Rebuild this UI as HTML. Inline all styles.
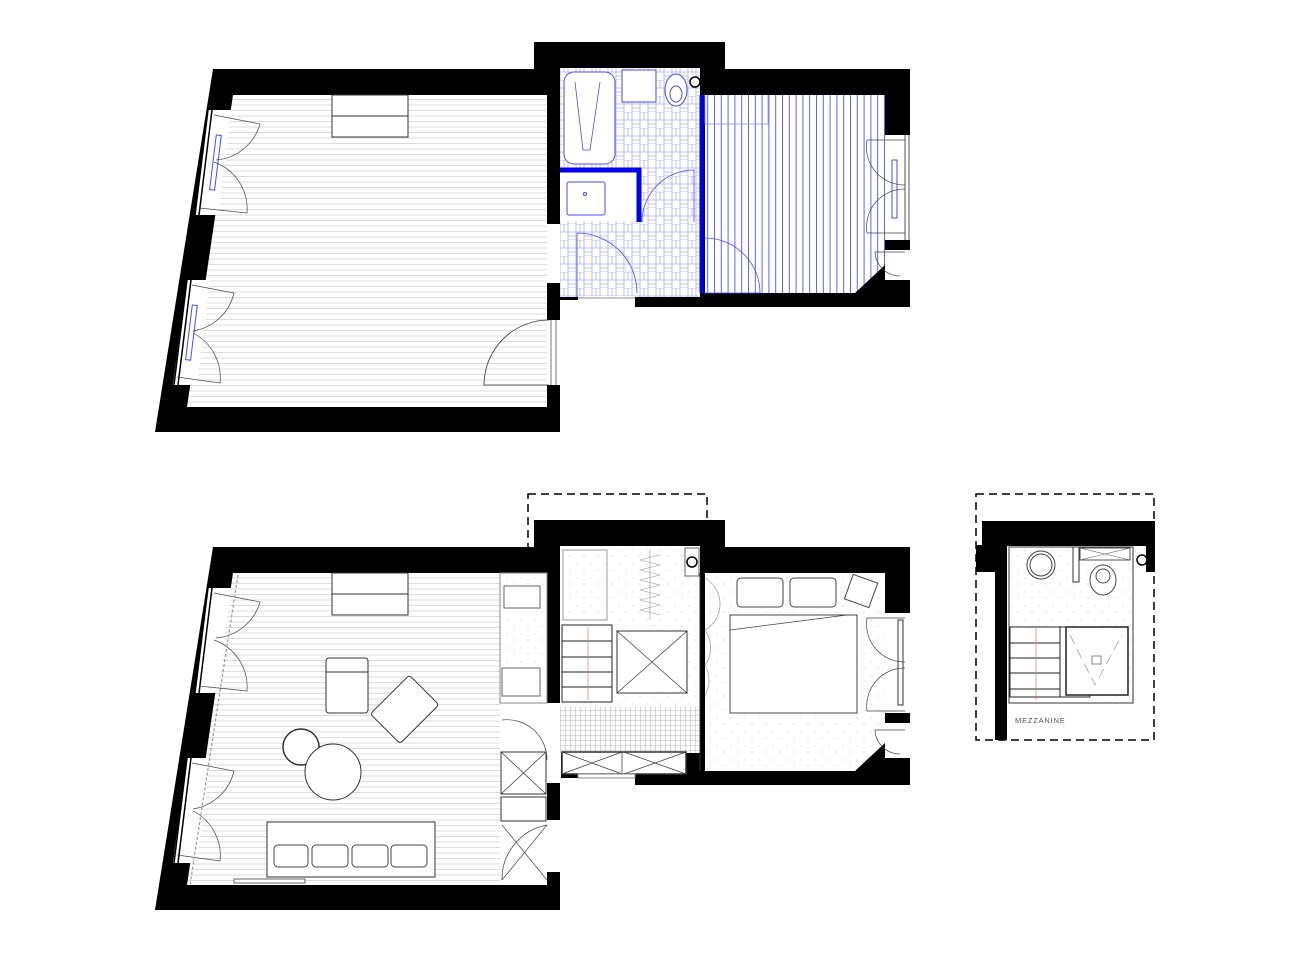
<!DOCTYPE html>
<html><head><meta charset="utf-8"><style>
html,body{margin:0;padding:0;background:#fff;}
svg{display:block;}
</style></head><body>
<svg width="1300" height="968" viewBox="0 0 1300 968" xmlns="http://www.w3.org/2000/svg">
<defs>
<pattern id="hl" width="10" height="5.5" patternUnits="userSpaceOnUse"><rect width="10" height="5.5" fill="#fff"/><line x1="0" y1="0.5" x2="10" y2="0.5" stroke="#d4d4d4" stroke-width="0.8"/></pattern>
<pattern id="vb" width="6.8" height="10" patternUnits="userSpaceOnUse"><rect width="6.8" height="10" fill="#fff"/><line x1="0.5" y1="0" x2="0.5" y2="10" stroke="#3a3aff" stroke-width="0.8"/></pattern>
<pattern id="tile" width="16" height="16" patternUnits="userSpaceOnUse"><rect width="16" height="16" fill="#fff"/><path d="M0 0H8V8H0Z M8 0V8 M4 0V8 M8 8H16V16H8Z M8 12H16 M0 8V16M16 0V8" fill="none" stroke="#8a8aff" stroke-width="0.55"/></pattern>
<pattern id="grid" width="5" height="5" patternUnits="userSpaceOnUse"><rect width="5" height="5" fill="#fff"/><path d="M0 0.5H5M0.5 0V5" stroke="#bbb" stroke-width="0.6"/></pattern>
<pattern id="dots" width="14" height="14" patternUnits="userSpaceOnUse"><rect width="14" height="14" fill="#fff"/><circle cx="3" cy="4" r="0.5" fill="#aaa"/><circle cx="10" cy="10" r="0.5" fill="#aaa"/></pattern>
<path id="outer" d="M213 69H534V42H725V69H910V307H635V297H578V300H560V432H155Z"/>
</defs>

<!-- ============ TOP PLAN ============ -->
<use href="#outer" fill="#000"/>
<path d="M233 95H547V407H187Z" fill="url(#hl)"/>
<rect x="547" y="224" width="14" height="59" fill="#fff"/>
<rect x="547" y="320" width="14" height="65" fill="#fff"/>
<line x1="551" y1="320" x2="551" y2="385" stroke="#777" stroke-width="1"/>
<line x1="556" y1="320" x2="556" y2="385" stroke="#777" stroke-width="1"/>
<path d="M549 320 A65 65 0 0 0 484 385 H549" fill="none" stroke="#333" stroke-width="0.8"/>
<rect x="560" y="68" width="140" height="229" fill="url(#tile)"/>
<rect x="578" y="296" width="57" height="5" fill="#fff"/>
<line x1="578" y1="298" x2="635" y2="298" stroke="#888"/>
<rect x="564" y="72" width="51" height="92" rx="10" fill="#fff" stroke="#4a4aff" stroke-width="1"/>
<path d="M575 82 L583 150 L590 150 L600 82" fill="none" stroke="#4a4aff" stroke-width="0.8"/>
<rect x="622" y="70" width="34" height="32" fill="#fff" stroke="#4a4aff"/>
<ellipse cx="676" cy="90" rx="11" ry="16" fill="#fff" stroke="#4a4aff"/>
<ellipse cx="676" cy="94" rx="6" ry="8" fill="none" stroke="#4a4aff"/>
<circle cx="695" cy="82" r="5" fill="#fff" stroke="#000" stroke-width="1.5"/>
<rect x="560" y="168" width="80" height="53" fill="#fff"/>
<path d="M560 170H639V222" fill="none" stroke="#0000ee" stroke-width="5"/>
<rect x="567" y="182" width="38" height="33" rx="2" fill="#fff" stroke="#4a4aff"/>
<circle cx="585" cy="194" r="1.5" fill="none" stroke="#4a4aff"/>
<path d="M642 222 A52 52 0 0 1 694 170 V222" fill="none" stroke="#4a4aff" stroke-width="0.8"/>
<path d="M577 233 A60 60 0 0 1 637 293 M577 233V297" fill="none" stroke="#4a4aff" stroke-width="0.8"/>
<path d="M705 95H885V265L855 293H705Z" fill="url(#vb)"/>
<line x1="702" y1="95" x2="702" y2="293" stroke="#0000ee" stroke-width="5"/>
<path d="M705 95V124H768V95" fill="none" stroke="#8888ff" stroke-width="0.7"/>
<path d="M705 238 A55 55 0 0 1 760 293 H705" fill="none" stroke="#4a4aff" stroke-width="0.8"/>
<rect x="885" y="135" width="25" height="105" fill="#fff"/>
<rect x="885" y="250" width="25" height="30" fill="#fff"/>
<line x1="905" y1="135" x2="905" y2="240" stroke="#555"/>
<line x1="909" y1="135" x2="909" y2="240" stroke="#555"/>
<rect x="892" y="160" width="5" height="58" fill="none" stroke="#4a4aff"/>
<path d="M905 140H867 M867 140 A38 38 0 0 0 905 185 M905 189 A38 38 0 0 0 867 233 H905" fill="none" stroke="#444" stroke-width="0.7"/>
<path d="M905 252H875 A25 25 0 0 0 900 276" fill="none" stroke="#444" stroke-width="0.7"/>
<path d="M208 110L231 110L218 215L195 215Z" fill="#fff"/>
<path d="M187 280L210 280L197 385L173 385Z" fill="#fff"/>
<path d="M208 110L195 215 M212 110L199 215 M187 280L174 385 M191 280L178 385" stroke="#000" stroke-width="1.5"/>
<rect x="213" y="135" width="5" height="55" transform="rotate(7 215 162)" fill="none" stroke="#4a4aff"/>
<rect x="189" y="305" width="5" height="55" transform="rotate(7 191 332)" fill="none" stroke="#4a4aff"/>
<path d="M214 115L260 124 A50 50 0 0 1 216 160 M214 162 A50 50 0 0 1 247 213 L199 208" fill="none" stroke="#444" stroke-width="0.7"/>
<path d="M192 285L234 293 A50 50 0 0 1 193 331 M193 333 A50 50 0 0 1 220 383 L177 377" fill="none" stroke="#444" stroke-width="0.7"/>
<rect x="332" y="95" width="76" height="42" fill="#fff" stroke="#333"/>
<line x1="332" y1="116" x2="408" y2="116" stroke="#333"/>

<!-- ============ BOTTOM PLAN ============ -->
<rect x="528" y="494" width="179" height="246" fill="none" stroke="#000" stroke-width="1.5" stroke-dasharray="8 5"/>
<use href="#outer" fill="#000" transform="translate(0,478)"/>
<path d="M233 573H547V885H187Z" fill="url(#hl)"/>
<rect x="547" y="703" width="14" height="80" fill="#fff"/>
<rect x="547" y="820" width="14" height="52" fill="#fff"/>
<rect x="500" y="573" width="47" height="312" fill="#fff"/>
<rect x="500" y="573" width="47" height="130" fill="url(#dots)" stroke="#888"/>
<rect x="504" y="586" width="36" height="22" fill="#fff" stroke="#666"/>
<rect x="502" y="668" width="38" height="28" fill="#fff" stroke="#666"/>
<rect x="501" y="752" width="45" height="42" fill="#fff" stroke="#333"/>
<path d="M501 752L546 794M546 752L501 794" stroke="#333" stroke-width="0.7"/>
<rect x="501" y="797" width="45" height="24" fill="#fff" stroke="#333"/>
<path d="M547 825 A55 55 0 0 0 502 880 M502 825L547 880M547 825L502 880" fill="none" stroke="#444" stroke-width="0.7"/>
<path d="M502 720 A40 40 0 0 1 547 760" fill="none" stroke="#444" stroke-width="0.7"/>
<rect x="560" y="546" width="140" height="161" fill="url(#dots)"/>
<rect x="563" y="550" width="44" height="70" fill="none" stroke="#999"/>
<path d="M650 550V620 M660 555L640 560L660 565L640 570L660 575L640 580L660 585L640 590L660 595L640 600L660 605L640 610L660 615" fill="none" stroke="#999" stroke-width="0.6"/>
<rect x="562" y="625" width="50" height="77" fill="#fff" stroke="#222"/>
<path d="M562 641H612M562 657H612M562 672H612M562 687H612" stroke="#222"/>
<line x1="588" y1="627" x2="588" y2="700" stroke="#f66" stroke-width="0.7"/>
<rect x="617" y="631" width="70" height="62" fill="#fff" stroke="#333"/>
<path d="M617 631L687 693M687 631L617 693" stroke="#333" stroke-width="0.7"/>
<rect x="685" y="548" width="14" height="28" fill="#fff" stroke="#666"/>
<circle cx="692" cy="562" r="5" fill="#fff" stroke="#000" stroke-width="1.5"/>
<rect x="560" y="707" width="140" height="46" fill="url(#grid)"/>
<rect x="562" y="752" width="124" height="22" fill="#fff" stroke="#333" stroke-width="1.5"/>
<path d="M562 752L622 774M622 752L562 774M624 752L686 774M686 752L624 774M622 752V774" stroke="#333" stroke-width="0.7"/>
<rect x="578" y="774" width="57" height="4" fill="#fff" stroke="#888"/>
<path d="M705 573H885V743L855 771H705Z" fill="url(#dots)"/>
<line x1="700" y1="573" x2="700" y2="771" stroke="#333"/>
<path d="M705 578 A30 30 0 0 1 705 630 A30 30 0 0 1 705 665 A30 30 0 0 1 705 695" fill="none" stroke="#999" stroke-width="0.7"/>
<rect x="730" y="615" width="127" height="98" fill="#fff" stroke="#444"/>
<line x1="730" y1="630" x2="847" y2="615" stroke="#444" stroke-width="0.7"/>
<rect x="737" y="578" width="46" height="29" rx="4" fill="#fff" stroke="#444"/>
<rect x="790" y="578" width="46" height="29" rx="4" fill="#fff" stroke="#444"/>
<rect x="848" y="578" width="26" height="26" transform="rotate(20 861 591)" fill="#fff" stroke="#444"/>
<rect x="885" y="613" width="25" height="100" fill="#fff"/>
<rect x="885" y="723" width="25" height="35" fill="#fff"/>
<rect x="898" y="620" width="5" height="85" fill="#fff" stroke="#333"/>
<path d="M905 618H867 A38 38 0 0 0 905 662 M905 668 A38 38 0 0 0 867 711 H905" fill="none" stroke="#444" stroke-width="0.7"/>
<path d="M905 730H875 A25 25 0 0 0 900 754" fill="none" stroke="#444" stroke-width="0.7"/>
<path d="M208 588L231 588L218 693L195 693Z" fill="#fff"/>
<path d="M187 758L210 758L197 863L173 863Z" fill="#fff"/>
<path d="M208 588L195 693 M212 588L199 693 M187 758L174 863 M191 758L178 863" stroke="#000" stroke-width="1.5"/>
<path d="M214 593L260 602 A50 50 0 0 1 216 638 M214 640 A50 50 0 0 1 247 691 L199 686" fill="none" stroke="#444" stroke-width="0.7"/>
<path d="M192 763L234 771 A50 50 0 0 1 193 809 M193 811 A50 50 0 0 1 220 861 L177 855" fill="none" stroke="#444" stroke-width="0.7"/>
<path d="M238 575 L190 885" stroke="#999" stroke-width="1.2" stroke-dasharray="3 2"/>
<rect x="332" y="573" width="76" height="42" fill="#fff" stroke="#333"/>
<line x1="332" y1="594" x2="408" y2="594" stroke="#333"/>
<rect x="326" y="658" width="42" height="55" rx="3" fill="#fff" stroke="#333"/>
<line x1="326" y1="672" x2="368" y2="672" stroke="#333"/>
<rect x="384" y="682" width="42" height="55" rx="3" transform="rotate(45 405 709)" fill="#fff" stroke="#333"/>
<circle cx="301" cy="747" r="18" fill="#fff" stroke="#333" stroke-width="1.5"/>
<circle cx="333" cy="772" r="28" fill="#fff" stroke="#333"/>
<rect x="267" y="822" width="168" height="55" fill="#fff" stroke="#333"/>
<rect x="274" y="845" width="34" height="22" rx="4" fill="#fff" stroke="#444"/>
<rect x="312" y="845" width="36" height="22" rx="4" fill="#fff" stroke="#444"/>
<rect x="352" y="845" width="36" height="22" rx="4" fill="#fff" stroke="#444"/>
<rect x="391" y="845" width="36" height="22" rx="4" fill="#fff" stroke="#444"/>
<rect x="234" y="879" width="71" height="4" fill="#fff" stroke="#666"/>

<!-- ============ MEZZANINE ============ -->
<rect x="976" y="494" width="178" height="246" fill="none" stroke="#000" stroke-width="1.5" stroke-dasharray="8 5"/>
<rect x="982" y="521" width="173" height="25" fill="#000"/>
<rect x="976" y="545" width="31" height="27" fill="#000"/>
<rect x="995" y="545" width="12" height="195" fill="#000"/>
<rect x="1146" y="545" width="9" height="27" fill="#000"/>
<rect x="1009" y="547" width="124" height="156" fill="url(#dots)" stroke="#333"/>
<circle cx="1041" cy="565" r="14" fill="#fff" stroke="#444"/>
<circle cx="1041" cy="565" r="11" fill="none" stroke="#444"/>
<rect x="1073" y="547" width="6" height="35" fill="#fff" stroke="#333"/>
<rect x="1080" y="548" width="50" height="12" fill="#fff" stroke="#555"/>
<path d="M1080 548L1130 560M1130 548L1080 560" stroke="#555" stroke-width="0.6"/>
<ellipse cx="1103" cy="580" rx="13" ry="15" fill="#fff" stroke="#444"/>
<ellipse cx="1103" cy="576" rx="7" ry="7" fill="none" stroke="#444"/>
<circle cx="1142" cy="560" r="5" fill="#fff" stroke="#000" stroke-width="1.5"/>
<rect x="1010" y="627" width="80" height="70" fill="#fff" stroke="#222"/>
<path d="M1010 643H1060M1010 658H1060M1010 673H1060M1010 689H1060M1060 627V697" stroke="#222"/>
<line x1="1036" y1="627" x2="1036" y2="700" stroke="#f66" stroke-width="0.7"/>
<rect x="1066" y="627" width="62" height="68" fill="#fff" stroke="#222" stroke-width="1.5"/>
<path d="M1070 635L1095 685L1122 635" fill="none" stroke="#888" stroke-width="0.6" stroke-dasharray="10 6"/>
<rect x="1092" y="656" width="9" height="8" fill="none" stroke="#888"/>
<text x="1015" y="723" font-family="Liberation Sans, sans-serif" font-size="7.5" fill="#555" letter-spacing="0.8">MEZZANINE</text>
</svg>
</body></html>
